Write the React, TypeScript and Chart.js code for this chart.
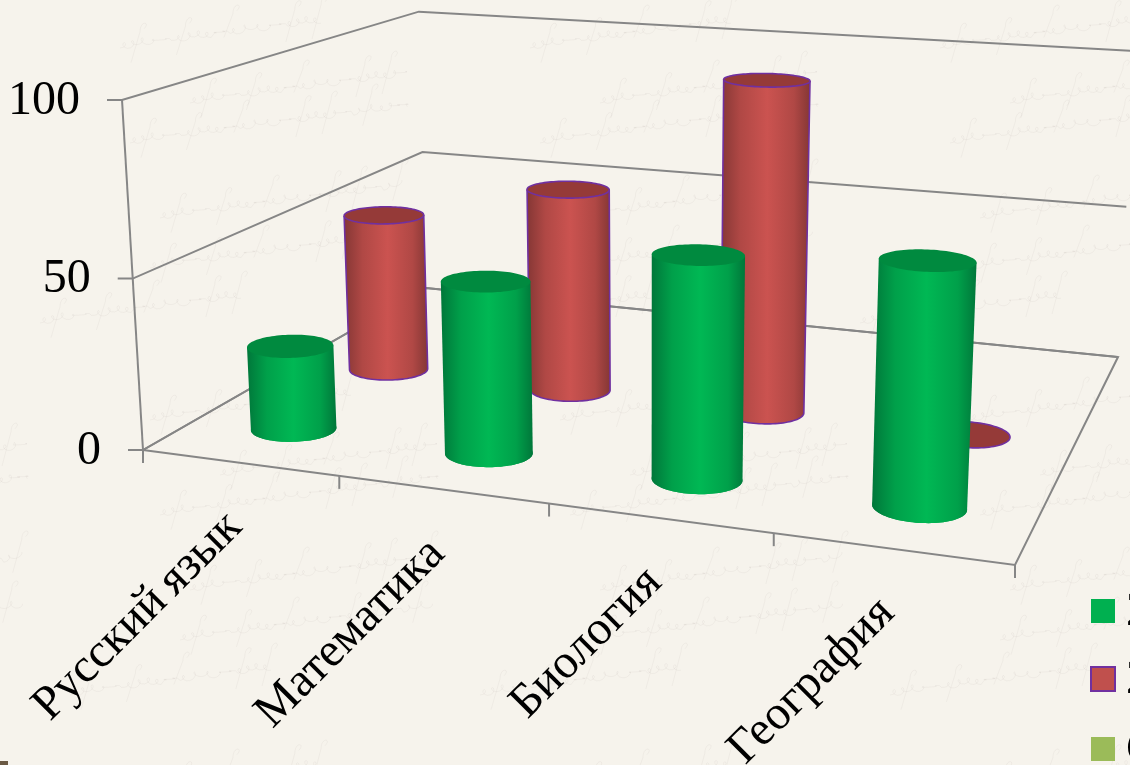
import React, { useEffect, useRef } from "react";
import Chart from "chart.js/auto";

const categories = ["Русский язык", "Математика", "Биология", "География"];
const seriesNames = ["2", "2", "С"];
const greenValues = [25, 50, 63, 67];
const redValues = [50, 63, 100, 0];
const emptyValues: (number | null)[] = [null, null, null, null];

const FONT = '"Liberation Serif", "Times New Roman", serif';
const BG = "#f6f3ec";
const GRID = "#868686";

// Projection anchors of the 3D box (screen pixels of its corners)
const O = [143, 450], U = [1015, 565], UV = [1118, 357], V = [426, 288], H = [122, 100];
const K = -0.04;
const den = (U[0] - UV[0]) * (V[1] - UV[1]) - (V[0] - UV[0]) * (U[1] - UV[1]);
const sx = O[0] - U[0] + UV[0] - V[0];
const sy = O[1] - U[1] + UV[1] - V[1];
const G = (sx * (V[1] - UV[1]) - (V[0] - UV[0]) * sy) / den;
const D = ((U[0] - UV[0]) * sy - sx * (U[1] - UV[1])) / den;
const project = (u: number, v: number, h: number): [number, number] => {
  const w = 1 + G * u + D * v + K * h;
  const x = O[0] + u * (U[0] * (1 + G) - O[0]) + v * (V[0] * (1 + D) - O[0]) + h * (H[0] * (1 + K) - O[0]);
  const y = O[1] + u * (U[1] * (1 + G) - O[1]) + v * (V[1] * (1 + D) - O[1]) + h * (H[1] * (1 + K) - O[1]);
  return [x / w, y / w];
};

const RU = 0.0505, RV = 0.062;
const DEPTHS = 3;

const shades = [
  { edge: "#00773a", blend: "#00a04a", mid: "#00b854", top: "#008a3f", stroke: null as string | null },
  { edge: "#853735", blend: "#b04845", mid: "#cb5350", top: "#953a38", stroke: "#7030a0" },
  { edge: "#6f8a3c", blend: "#8cab4f", mid: "#9bbb59", top: "#7c9647", stroke: null },
];

function line(ctx: CanvasRenderingContext2D, pts: [number, number][]) {
  ctx.beginPath();
  pts.forEach((p, i) => (i ? ctx.lineTo(p[0], p[1]) : ctx.moveTo(p[0], p[1])));
  ctx.stroke();
}

// decorative pen strokes of the parchment backdrop
function scribble(ctx: CanvasRenderingContext2D, x0: number, y0: number, len: number) {
  ctx.beginPath();
  for (let s = 0; s <= len; s += 1) {
    const word = Math.sin(s * 0.11) > -0.6 ? 1 : 0.05;
    const x = x0 + s + 3.2 * Math.sin(s * 0.62 + 2 * Math.sin(s * 0.07));
    const y = y0 - s * 0.13 + word * (3 * Math.cos(s * 0.62 + 2 * Math.sin(s * 0.07)) + 1.5 * Math.sin(s * 0.23));
    if (s === 0) ctx.moveTo(x, y);
    else ctx.lineTo(x, y);
  }
  ctx.stroke();
  let s = 17;
  while (s < len) {
    const x = x0 + s;
    const y = y0 - s * 0.13;
    const up = 10 + 10 * Math.abs(Math.sin(s * 0.9));
    const down = 6 + 14 * Math.abs(Math.cos(s * 1.3));
    ctx.beginPath();
    ctx.moveTo(x + 7, y - up);
    ctx.bezierCurveTo(x + 14, y - up - 7, x + 3, y - up - 9, x + 3, y - up + 3);
    ctx.lineTo(x - 6, y + down);
    ctx.stroke();
    s += 22 + 40 * Math.abs(Math.sin(s * 1.7));
  }
}

const paperStrokes = [
  [120, 45, 200], [190, 100, 220], [130, 140, 280], [160, 215, 240], [150, 265, 250], [40, 320, 200],
];

function drawPaper(ctx: CanvasRenderingContext2D, w: number, h: number) {
  ctx.fillStyle = BG;
  ctx.fillRect(0, 0, w, h);
  ctx.save();
  ctx.strokeStyle = "rgba(110,100,85,0.055)";
  ctx.lineWidth = 1;
  for (let row = 0; row < 3; row++) {
    for (let col = -1; col < 4; col++) {
      const ox = col * 410 + (row % 2 ? 30 : 0);
      const oy = row * 372;
      paperStrokes.forEach(([x, y, l]) => scribble(ctx, x + ox, y + oy, l));
    }
  }
  ctx.restore();
  ctx.fillStyle = "#6b5a44";
  ctx.fillRect(0, 761, 8, 4);
}

function drawCylinder(ctx: CanvasRenderingContext2D, u: number, v: number, h: number, s: typeof shades[number]) {
  const N = 96;
  const ring = (hh: number) => {
    const pts: [number, number][] = [];
    for (let i = 0; i < N; i++) {
      const t = (i / N) * Math.PI * 2;
      pts.push(project(u + RU * Math.cos(t), v + RV * Math.sin(t), hh));
    }
    return pts;
  };
  const bottom = ring(0);
  const top = ring(h);
  let il = 0, ir = 0;
  bottom.forEach((p, i) => {
    if (p[0] < bottom[il][0]) il = i;
    if (p[0] > bottom[ir][0]) ir = i;
  });
  const arc = (a: number, b: number, dir: number) => {
    const out: [number, number][] = [];
    for (let i = a; ; i = (i + dir + N) % N) {
      out.push(bottom[i]);
      if (i === b) break;
    }
    return out;
  };
  const a1 = arc(ir, il, 1), a2 = arc(ir, il, -1);
  const avg = (l: [number, number][]) => l.reduce((t, p) => t + p[1], 0) / l.length;
  const front = avg(a1) > avg(a2) ? a1 : a2;

  const side = () => {
    ctx.beginPath();
    ctx.moveTo(top[il][0], top[il][1]);
    ctx.lineTo(top[ir][0], top[ir][1]);
    front.forEach((p) => ctx.lineTo(p[0], p[1]));
    ctx.closePath();
  };
  const ellipse = (pts: [number, number][]) => {
    ctx.beginPath();
    pts.forEach((p, i) => (i ? ctx.lineTo(p[0], p[1]) : ctx.moveTo(p[0], p[1])));
    ctx.closePath();
  };

  if (h > 0) {
    const gx0 = Math.min(top[il][0], bottom[il][0]);
    const gx1 = Math.max(top[ir][0], bottom[ir][0]);
    const g = ctx.createLinearGradient(gx0, 0, gx1, 0);
    g.addColorStop(0, s.edge);
    g.addColorStop(0.22, s.blend);
    g.addColorStop(0.52, s.mid);
    g.addColorStop(0.82, s.blend);
    g.addColorStop(1, s.edge);
    ctx.fillStyle = g;
    side();
    ctx.fill();
    ellipse(bottom);
    ctx.fill();
  }
  ctx.fillStyle = s.top;
  ellipse(top);
  ctx.fill();

  if (s.stroke) {
    ctx.strokeStyle = s.stroke;
    ctx.lineWidth = 1.6;
    if (h > 0) {
      ctx.beginPath();
      ctx.moveTo(top[il][0], top[il][1]);
      front.slice().reverse().forEach((p) => ctx.lineTo(p[0], p[1]));
      ctx.lineTo(top[ir][0], top[ir][1]);
      ctx.stroke();
    }
    ellipse(top);
    ctx.stroke();
  }
}

const box3d = {
  id: "box3d",
  beforeDraw(chart: any) {
    const { ctx, width, height, scales } = chart;
    const { x, y } = scales;
    ctx.save();
    drawPaper(ctx, width, height);
    ctx.strokeStyle = GRID;
    ctx.lineWidth = 2;
    ctx.lineJoin = "miter";

    const hOf = (val: number) => (y.bottom - y.getPixelForValue(val)) / (y.bottom - y.top);
    const uOf = (val: number) => (x.getPixelForValue(val) - x.left) / (x.right - x.left);

    // floor
    line(ctx, [project(0, 0, 0), project(1, 0, 0), project(1, 1, 0), project(0, 1, 0), project(0, 0, 0)]);
    // walls, value ticks and labels
    line(ctx, [project(0, 0, 0), project(0, 0, 1)]);
    ctx.fillStyle = "#000";
    ctx.font = `48px ${FONT}`;
    ctx.textAlign = "right";
    ctx.textBaseline = "middle";
    y.ticks.forEach((t: any) => {
      const hh = hOf(t.value);
      const p = project(0, 0, hh);
      line(ctx, [[p[0] - 15, p[1]], p, project(0, 1, hh), project(1, 1, hh)]);
      ctx.fillText(String(t.value), p[0] - 42, p[1] + 1);
    });
    // category ticks and labels
    const n = chart.data.labels.length;
    for (let i = 0; i <= n; i++) {
      const p = project(uOf(i - 0.5), 0, 0);
      line(ctx, [p, [p[0], p[1] + 13]]);
    }
    ctx.textAlign = "right";
    ctx.textBaseline = "middle";
    (ctx as any).wordSpacing = "-3px";
    chart.data.labels.forEach((lab: string, i: number) => {
      const p = project(uOf(i), 0, 0);
      ctx.save();
      ctx.translate(p[0] - 5, p[1] + 57);
      ctx.rotate(-Math.PI / 4);
      ctx.fillText(lab, 0, 0);
      ctx.restore();
    });
    (ctx as any).wordSpacing = "0px";
    ctx.restore();
  },
  beforeDatasetsDraw(chart: any) {
    const { ctx, scales } = chart;
    const { x, y } = scales;
    ctx.save();
    const count = chart.data.datasets.length;
    for (let s = count - 1; s >= 0; s--) {
      const data = chart.data.datasets[s].data;
      data.forEach((val: number | null, i: number) => {
        if (val === null) return;
        const u = (x.getPixelForValue(i) - x.left) / (x.right - x.left);
        const h = (y.bottom - y.getPixelForValue(val)) / (y.bottom - y.top);
        drawCylinder(ctx, u, (s + 0.5) / DEPTHS, h, shades[s]);
      });
    }
    ctx.restore();
    return false;
  },
  afterDraw(chart: any) {
    const { ctx } = chart;
    ctx.save();
    const ys = [611, 679, 749];
    ctx.font = `48px ${FONT}`;
    ctx.textAlign = "left";
    ctx.textBaseline = "middle";
    chart.data.datasets.forEach((d: any, i: number) => {
      ctx.fillStyle = d.backgroundColor;
      ctx.fillRect(1091, ys[i] - 12, 24, 24);
      if (d.borderWidth) {
        ctx.strokeStyle = d.borderColor;
        ctx.lineWidth = 2;
        ctx.strokeRect(1091, ys[i] - 12, 24, 24);
      }
      ctx.fillStyle = "#000";
      ctx.fillText(d.label, 1126, ys[i] + 1);
    });
    ctx.restore();
  },
};

export default function App() {
  const ref = useRef<HTMLCanvasElement>(null);
  useEffect(() => {
    document.body.style.margin = "0";
    document.body.style.overflow = "hidden";
    const chart = new Chart(ref.current as HTMLCanvasElement, {
      type: "bar",
      data: {
        labels: categories,
        datasets: [
          { label: seriesNames[0], data: greenValues, backgroundColor: "#00b050", borderWidth: 0 },
          { label: seriesNames[1], data: redValues, backgroundColor: "#c0504d", borderColor: "#7030a0", borderWidth: 1 },
          { label: seriesNames[2], data: emptyValues, backgroundColor: "#9bbb59", borderWidth: 0 },
        ],
      },
      options: {
        responsive: false,
        animation: false,
        devicePixelRatio: 1,
        layout: { padding: 0 },
        events: [],
        plugins: { legend: { display: false }, tooltip: { enabled: false } },
        scales: {
          x: { display: false },
          y: { display: false, min: 0, max: 100, ticks: { stepSize: 50 } },
        },
      },
      plugins: [box3d],
    } as any);
    return () => chart.destroy();
  }, []);
  return <canvas ref={ref} width={1130} height={765} style={{ display: "block" }} />;
}
